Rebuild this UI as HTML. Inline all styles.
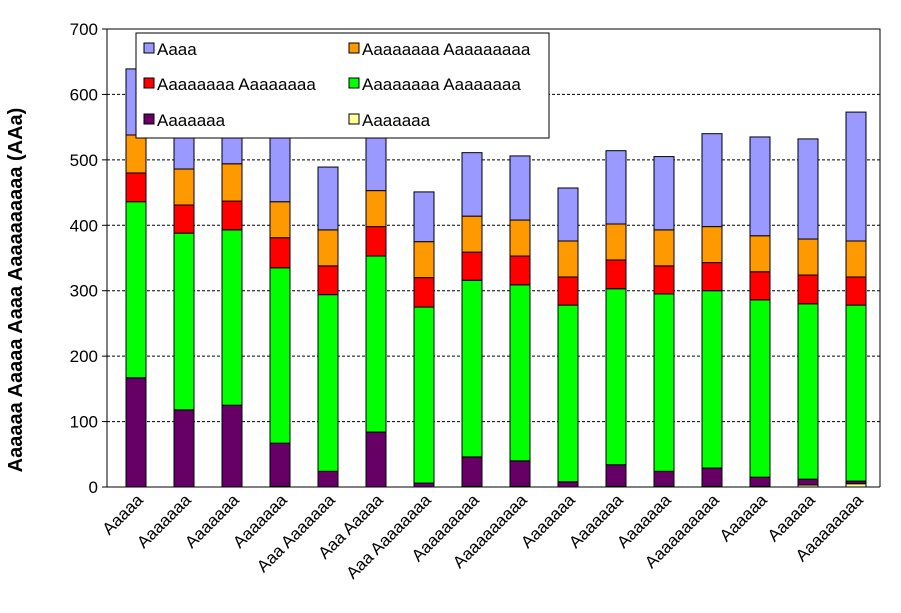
<!DOCTYPE html>
<html><head><meta charset="utf-8"><style>
body{margin:0;background:#fff}
svg{display:block;font-family:"Liberation Sans",Arial,sans-serif}
</style></head><body>
<svg id="c" width="901" height="613"></svg>
<script>
const categories=["Aaaaa","Aaaaaaa","Aaaaaaa","Aaaaaaa","Aaa Aaaaaaa","Aaa Aaaaa","Aaa Aaaaaaaa","Aaaaaaaaa","Aaaaaaaaaa","Aaaaaaa","Aaaaaaa","Aaaaaaa","Aaaaaaaaaa","Aaaaaa","Aaaaaa","Aaaaaaaaa"];
const yellowVals=[0,0,0,1,0,0,0,1,1,0,1,1,1,1,3,5];
const purpleVals=[167,118,125,66,24,84,6,45,39,8,33,23,28,14,9,4];
const greenVals=[269,270,268,268,270,269,269,270,269,270,269,271,271,271,268,269];
const redVals=[44,43,44,46,44,45,45,43,44,43,44,43,43,43,44,43];
const orangeVals=[58,55,57,55,55,55,55,55,55,55,55,55,55,55,55,55];
const blueVals=[101,84,86,124,96,107,76,97,98,81,112,112,142,151,153,197];
const yTicks=[0,100,200,300,400,500,600,700];
const seriesNames=["Aaaa","Aaaaaaaa Aaaaaaaaa","Aaaaaaaa Aaaaaaaa","Aaaaaaaa Aaaaaaaa","Aaaaaaa","Aaaaaaa"];

const NS="http://www.w3.org/2000/svg",svg=document.getElementById('c');
function el(t,a,p){const e=document.createElementNS(NS,t);for(const k in a)e.setAttribute(k,a[k]);(p||svg).appendChild(e);return e;}
const X0=107,X1=880,Y0=487,Y1=29,YMAX=700;
const y=v=>Y0-(v/YMAX)*(Y0-Y1);
const xc=i=>136+i*48;
const BW=20;
yTicks.forEach(t=>{
  if(t>0&&t<YMAX){const g=el('line',{x1:X0,x2:X1,y1:y(t),y2:y(t),stroke:'#000','stroke-dasharray':'3,2','stroke-width':1});
  
  }
  const tk=el('line',{x1:X0-5,x2:X0,y1:y(t),y2:y(t),stroke:'#000'});
  
  
  const lb=el('text',{x:X0-9,y:y(t)+6,'text-anchor':'end','font-size':17});
  lb.textContent=t;
  
  
});
const border=el('path',{d:`M${X0},${Y1}H${X1}V${Y0}`,fill:'none',stroke:'#000'});


const series=[[yellowVals,'#ffff99'],[purpleVals,'#660066'],[greenVals,'#00ff00'],[redVals,'#ff0000'],[orangeVals,'#ff9900'],[blueVals,'#9999ff']];
const snames=['yellow','purple','green','red','orange','blue'];
categories.forEach((c,i)=>{
  let base=0;
  series.forEach(([vals,col],s)=>{
    const v=vals[i];
    if(v>0){const r=el('rect',{x:xc(i)-BW/2,y:y(base+v),width:BW,height:y(base)-y(base+v),fill:col,stroke:'#000','stroke-width':1});
    
    }
    base+=v;
  });
  const t=el('text',{transform:`translate(${xc(i)+8},${Y0+14}) rotate(-45)`,'text-anchor':'end','font-size':17});
  t.textContent=c;
  
  
});
const ax=el('line',{x1:X0,x2:X0,y1:Y1,y2:Y0,stroke:'#000'});


const bx=el('line',{x1:X0-5,x2:X1,y1:Y0,y2:Y0,stroke:'#000'});


const lg=el('g',{});


el('rect',{x:136,y:33,width:413,height:105,fill:'#fff',stroke:'#000'},lg);
const lcols=['#9999ff','#ff9900','#ff0000','#00ff00','#660066','#ffff99'];
seriesNames.forEach((n,k)=>{
  const cx=k%2?349:144, cy=[49,84,120][Math.floor(k/2)];
  const g=el('g',{},lg);
  
  
  el('rect',{x:cx,y:cy-6,width:10,height:10,fill:lcols[k],stroke:'#000'},g);
  const t=el('text',{x:cx+13,y:cy+6,'font-size':17},g);t.textContent=n;
});
const yt=el('text',{transform:'translate(22,290) rotate(-90)','text-anchor':'middle','font-size':20,'font-weight':'bold'});
yt.textContent='Aaaaaa Aaaaa Aaaa Aaaaaaaaaa (AAa)';


</script>
</body></html>
